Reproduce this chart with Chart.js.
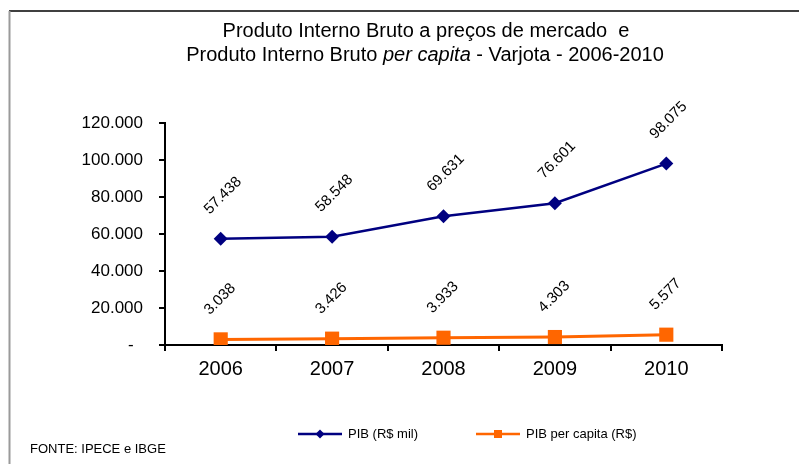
<!DOCTYPE html>
<html>
<head>
<meta charset="utf-8">
<script src="https://cdn.jsdelivr.net/npm/chart.js@4"></script>
<style>
  body { margin: 0; background: #fff; }
  canvas { display: block; }
</style>
</head>
<body>
<canvas id="pibChart" width="799" height="464"></canvas>
<script>
const anos = ['2006', '2007', '2008', '2009', '2010'];
const pibMil = [57438, 58548, 69631, 76601, 98075];
const pibPerCapita = [3038, 3426, 3933, 4303, 5577];
const yTicks = [0, 20000, 40000, 60000, 80000, 100000, 120000];

const FONT = '"Liberation Sans", Arial, sans-serif';

function fmt(v) {
  return String(v).replace(/\B(?=(\d{3})+(?!\d))/g, '.');
}

// moldura, titulo, rotulos de dados, legenda e fonte
const extras = {
  id: 'extras',
  beforeDraw(chart) {
    const c = chart.ctx;
    c.save();
    c.fillStyle = '#fff';
    c.fillRect(0, 0, chart.width, chart.height);
    c.strokeStyle = '#000';
    c.lineWidth = 1.5;
    c.beginPath();
    c.moveTo(9, 11);
    c.lineTo(799, 11);
    c.stroke();
    c.strokeStyle = '#9a9a9a';
    c.lineWidth = 2;
    c.beginPath();
    c.moveTo(9.5, 11);
    c.lineTo(9.5, 464);
    c.stroke();
    c.restore();
  },
  afterDraw(chart) {
    const c = chart.ctx;
    c.save();
    c.fillStyle = '#000';
    c.textBaseline = 'middle';

    // titulo
    c.font = '20px ' + FONT;
    c.textAlign = 'center';
    c.fillText('Produto Interno Bruto a preços de mercado  e', 426, 31);
    const parts = [
      ['Produto Interno Bruto ', '20px ' + FONT],
      ['per capita', 'italic 20px ' + FONT],
      [' - Varjota - 2006-2010', '20px ' + FONT]
    ];
    let total = 0;
    parts.forEach(p => { c.font = p[1]; total += c.measureText(p[0]).width; });
    let x = 425 - total / 2;
    c.textAlign = 'left';
    parts.forEach(p => {
      c.font = p[1];
      c.fillText(p[0], x, 55);
      x += c.measureText(p[0]).width;
    });

    // rotulos de dados
    c.font = '15px ' + FONT;
    chart.data.datasets.forEach((ds, i) => {
      chart.getDatasetMeta(i).data.forEach((pt, j) => {
        c.save();
        c.translate(pt.x - 14, pt.y - 27);
        c.rotate(-Math.PI / 4);
        c.fillText(fmt(ds.data[j]), 0, 0);
        c.restore();
      });
    });

    // legenda
    const legX = [298, 476];
    c.font = '13px ' + FONT;
    chart.data.datasets.forEach((ds, i) => {
      const x0 = legX[i], y0 = 434;
      c.strokeStyle = ds.borderColor;
      c.lineWidth = 2.5;
      c.beginPath();
      c.moveTo(x0, y0);
      c.lineTo(x0 + 44, y0);
      c.stroke();
      c.fillStyle = ds.borderColor;
      const cx = x0 + 22;
      if (ds.pointStyle === 'rectRot') {
        c.beginPath();
        c.moveTo(cx, y0 - 4.5);
        c.lineTo(cx + 4.5, y0);
        c.lineTo(cx, y0 + 4.5);
        c.lineTo(cx - 4.5, y0);
        c.closePath();
        c.fill();
      } else {
        c.fillRect(cx - 4, y0 - 4, 8, 8);
      }
      c.fillStyle = '#000';
      c.fillText(ds.label, x0 + 50, y0);
    });

    // fonte
    c.font = '13px ' + FONT;
    c.fillText('FONTE: IPECE e IBGE', 30, 449);
    c.restore();
  }
};

new Chart(document.getElementById('pibChart'), {
  type: 'line',
  data: {
    labels: anos,
    datasets: [
      {
        label: 'PIB (R$ mil)',
        data: pibMil,
        borderColor: '#000080',
        backgroundColor: '#000080',
        borderWidth: 2.5,
        pointStyle: 'rectRot',
        pointRadius: 7,
        pointHoverRadius: 7,
        pointBorderWidth: 0,
        tension: 0
      },
      {
        label: 'PIB per capita (R$)',
        data: pibPerCapita,
        borderColor: '#ff6600',
        backgroundColor: '#ff6600',
        borderWidth: 3,
        pointStyle: 'rect',
        pointRadius: 10,
        pointHoverRadius: 10,
        pointBorderWidth: 0,
        tension: 0
      }
    ]
  },
  options: {
    responsive: false,
    animation: false,
    layout: { padding: { top: 123, right: 77, left: 0, bottom: 0 } },
    plugins: {
      legend: { display: false },
      title: { display: false },
      tooltip: { enabled: false }
    },
    scales: {
      x: {
        offset: true,
        afterFit(s) { s.height = 119; },
        grid: { display: true, drawOnChartArea: false, drawTicks: true, tickLength: 6, color: '#000', lineWidth: 2, offset: true },
        border: { display: true, color: '#000', width: 2 },
        ticks: { color: '#000', padding: 6, font: { family: FONT, size: 20 } }
      },
      y: {
        min: 0,
        max: 120000,
        afterFit(s) { s.width = 165; },
        afterBuildTicks(s) { s.ticks = yTicks.map(v => ({ value: v })); },
        grid: { display: true, drawOnChartArea: false, drawTicks: true, tickLength: 6, color: '#000', lineWidth: 2 },
        border: { display: true, color: '#000', width: 2 },
        ticks: {
          color: '#000',
          padding: 16,
          font: { family: FONT, size: 17 },
          callback: v => v === 0 ? '-  ' : fmt(v)
        }
      }
    }
  },
  plugins: [extras]
});
</script>
</body>
</html>
